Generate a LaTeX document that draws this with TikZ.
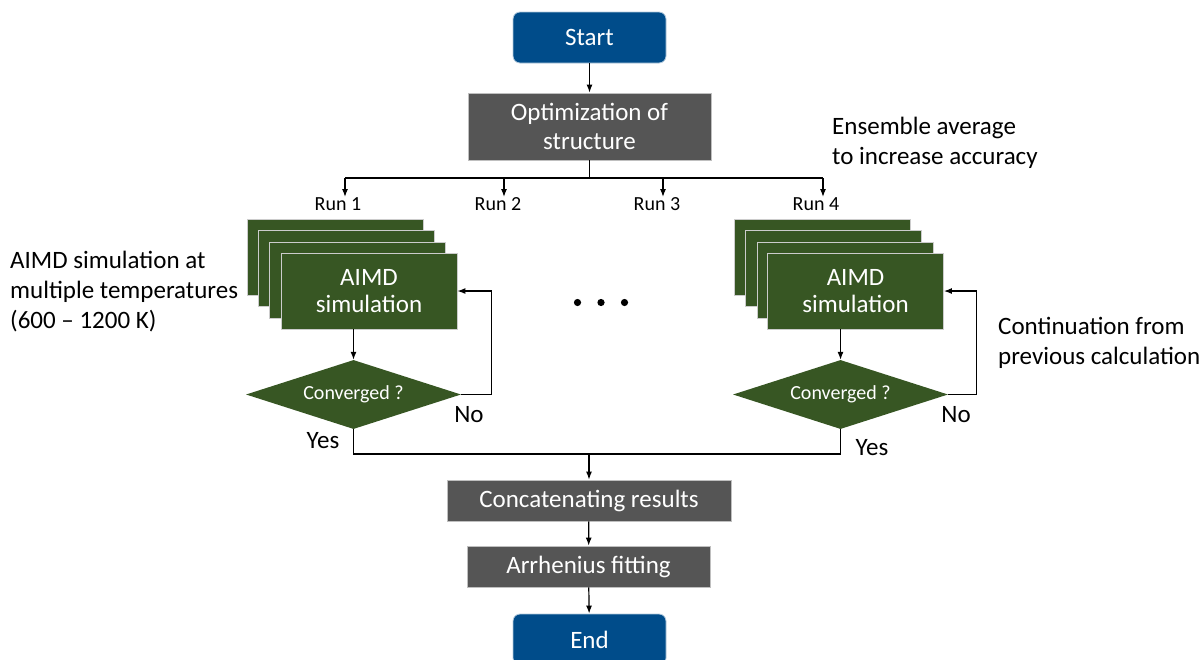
\documentclass[tikz,border=0pt]{standalone}
\usepackage{fontspec}
\setmainfont{Carlito}
\usetikzlibrary{shapes.geometric,arrows.meta}
\definecolor{sblue}{RGB}{0,76,138}
\definecolor{sgray}{RGB}{85,85,85}
\definecolor{sgreen}{RGB}{55,86,35}
\begin{document}
\begin{tikzpicture}[x=1pt,y=-1pt,
 f24/.style={font=\fontsize{25}{30}\selectfont},
 term/.style={rounded corners=7pt, fill=sblue, draw=white!70!sblue, line width=0.8pt, text=white, f24, minimum width=153pt, minimum height=51pt, inner sep=0pt},
 proc/.style={fill=sgray, draw=white!75!black, line width=0.8pt, text=white, f24, align=center, inner sep=0pt},
 sim/.style={fill=sgreen, draw=white!80!black, line width=0.8pt, text=white, f24, align=center, minimum width=176pt, minimum height=76pt, inner sep=0pt},
 dec/.style={diamond, aspect=3.1, fill=sgreen, text=white, font=\fontsize{20}{24}\selectfont, minimum width=215pt, minimum height=69pt, inner sep=0pt},
 arr/.style={-{Latex[length=8pt,width=6pt]}, line width=1.2pt},
 ln/.style={line width=1.2pt},
 lbl/.style={f24, inner sep=0pt},
 runl/.style={font=\fontsize{20}{24}\selectfont, inner sep=0pt, anchor=north}]
\useasboundingbox (0,0) rectangle (1201,659);

% terminals and processes
\node[term] (start) at (589.5,37.5) {\raisebox{-2pt}{Start}};
\node[proc, minimum width=243pt, minimum height=67pt] (opt) at (589.5,126.5) {\raisebox{-2pt}{\shortstack{Optimization of\\[6.5pt]structure}}};
\node[proc, minimum width=284pt, minimum height=41pt] (concat) at (589,500.5) {\raisebox{-2pt}{Concatenating results}};
\node[proc, minimum width=243pt, minimum height=41pt] (arrh) at (588.5,566.5) {\raisebox{-2pt}{Arrhenius fitting}};
\node[term] (endn) at (589.5,639.5) {\raisebox{-2pt}{End}};

% split line
\coordinate (split) at (589.5,178);
\coordinate (b1) at (345,178);
\coordinate (b2) at (504,178);
\coordinate (b3) at (663,178);
\coordinate (b4) at (823,178);
\node[runl] (r1) at (338,197) {Run 1};
\node[runl] (r2) at (498,197) {Run 2};
\node[runl] (r3) at (657,197) {Run 3};
\node[runl] (r4) at (816,197) {Run 4};

\draw[arr] (start) -- (opt);
\draw[ln] (opt) -- (split);
\draw[ln] (b1) -- (b4);
\draw[arr] (b1) -- (b1 |- r1.north);
\draw[arr] (b2) -- (b2 |- r2.north);
\draw[arr] (b3) -- (b3 |- r3.north);
\draw[arr] (b4) -- (b4 |- r4.north);

% left stack
\node[sim] (la) at (335,257.5) {};
\node[sim] (lb) at (346.3,268.8) {};
\node[sim] (lc) at (357.6,280.1) {};
\node[sim] (f1) at (369,291) {\raisebox{-2pt}{\shortstack{AIMD\\[6.5pt]simulation}}};
\node[dec] (d1) at (353.5,394.5) {Converged ?};

% right stack
\node[sim] (ra) at (822.5,257.5) {};
\node[sim] (rb) at (833.8,268.8) {};
\node[sim] (rc) at (845.1,280.1) {};
\node[sim] (f2) at (855.5,291) {\raisebox{-2pt}{\shortstack{AIMD\\[6.5pt]simulation}}};
\node[dec] (d2) at (840.5,394.5) {Converged ?};

\draw[arr] (d1.north |- f1.south) -- (d1.north);
\draw[arr] (d2.north |- f2.south) -- (d2.north);
\draw[arr] (d1.east) -- ++(30,0) |- (f1.east);
\draw[arr] (d2.east) -- ++(28,0) |- (f2.east);

\node[lbl] (no1) at (469,415) {No};
\node[lbl] (yes1) at (323,441) {Yes};
\node[lbl] (no2) at (956,415) {No};
\node[lbl] (yes2) at (872,448) {Yes};

% join
\coordinate (join) at (589,454);
\draw[ln] (d1.south) |- (join) -| (d2.south);
\draw[arr] (join) -- (concat);
\draw[arr] (concat) -- (arrh);
\draw[arr] (arrh) -- (endn);

% dots
\fill (577.5,302.5) circle (3.6pt);
\fill (601,302.5) circle (3.6pt);
\fill (624.5,302.5) circle (3.6pt);

% side texts
\node[lbl, anchor=west, align=left] (ens) at (832,143) {Ensemble average\\to increase accuracy};
\node[lbl, anchor=west, align=left] (temps) at (10,291.5) {AIMD simulation at\\multiple temperatures\\(600 – 1200 K)};
\node[lbl, anchor=west, align=left] (cont) at (998,342.5) {Continuation from\\previous calculation};
\end{tikzpicture}
\end{document}
